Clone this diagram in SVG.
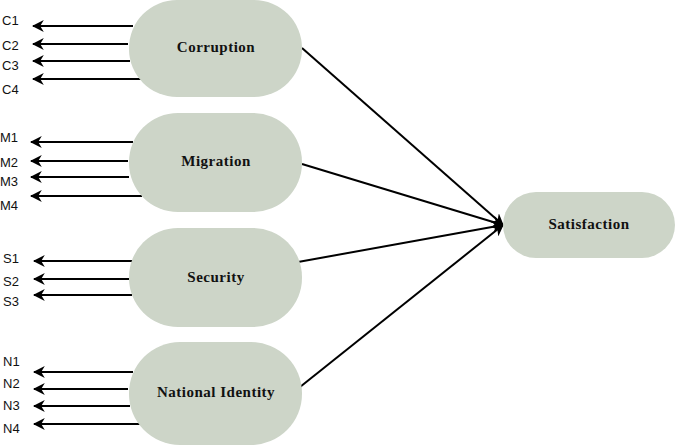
<svg xmlns="http://www.w3.org/2000/svg" width="676" height="448" viewBox="0 0 676 448">
<style>
.node{fill:#cdd5c8;}
.nl{font-family:"Liberation Serif",serif;font-weight:bold;font-size:15px;fill:#111;text-anchor:middle;dominant-baseline:central;letter-spacing:0.5px;}
.il{font-family:"Liberation Sans",sans-serif;font-size:13px;fill:#111;dominant-baseline:central;}
.c{stroke:#000;stroke-width:2;fill:none;marker-end:url(#ah);}
</style>
<defs>
<marker id="ah" viewBox="0 0 10 10" refX="9" refY="5" markerWidth="6" markerHeight="6" markerUnits="strokeWidth" orient="auto">
<path d="M0,0 L10,5 L0,10 L3,5 Z" fill="#000"/>
</marker>
</defs>
<rect width="676" height="448" fill="#fff"/>
<g id="connectors">
<line class="c" x1="133" y1="26" x2="33" y2="26"/>
<line class="c" x1="128" y1="44" x2="33" y2="44"/>
<line class="c" x1="130" y1="61" x2="33" y2="61"/>
<line class="c" x1="143" y1="79" x2="33" y2="79"/>
<line class="c" x1="133" y1="142" x2="31" y2="142"/>
<line class="c" x1="128" y1="161" x2="31" y2="161"/>
<line class="c" x1="129" y1="177" x2="31" y2="177"/>
<line class="c" x1="142" y1="196" x2="31" y2="196"/>
<line class="c" x1="134" y1="261" x2="34" y2="261"/>
<line class="c" x1="129" y1="279" x2="34" y2="279"/>
<line class="c" x1="132" y1="295" x2="34" y2="295"/>
<line class="c" x1="133" y1="372" x2="34" y2="372"/>
<line class="c" x1="128" y1="389" x2="34" y2="389"/>
<line class="c" x1="130" y1="406" x2="34" y2="406"/>
<line class="c" x1="143" y1="424" x2="34" y2="424"/>
<line class="c" x1="302" y1="48" x2="503" y2="225"/>
<line class="c" x1="302" y1="164" x2="503" y2="225"/>
<line class="c" x1="298" y1="262" x2="503" y2="225"/>
<line class="c" x1="300" y1="387" x2="503" y2="225"/>
</g>
<g id="corruption">
<rect class="node" x="129" y="0" width="173" height="97" rx="48" ry="48"/>
<text class="nl" x="216" y="47">Corruption</text>
</g>
<g id="migration">
<rect class="node" x="129" y="113" width="173" height="99" rx="49" ry="49"/>
<text class="nl" x="216" y="161">Migration</text>
</g>
<g id="security">
<rect class="node" x="129" y="228" width="173" height="99" rx="49" ry="49"/>
<text class="nl" x="216" y="277">Security</text>
</g>
<g id="national-identity">
<rect class="node" x="129" y="342" width="173" height="103" rx="51" ry="51"/>
<text class="nl" x="216" y="392">National Identity</text>
</g>
<g id="satisfaction">
<rect class="node" x="503" y="192" width="172" height="66" rx="33" ry="33"/>
<text class="nl" x="589" y="224">Satisfaction</text>
</g>
<g id="indicators">
<text class="il" x="2" y="20">C1</text>
<text class="il" x="2" y="45">C2</text>
<text class="il" x="2" y="65">C3</text>
<text class="il" x="2" y="89">C4</text>
<text class="il" x="0" y="137">M1</text>
<text class="il" x="0" y="162">M2</text>
<text class="il" x="0" y="181">M3</text>
<text class="il" x="0" y="205">M4</text>
<text class="il" x="3" y="258">S1</text>
<text class="il" x="3" y="281">S2</text>
<text class="il" x="3" y="301">S3</text>
<text class="il" x="3" y="361">N1</text>
<text class="il" x="3" y="383">N2</text>
<text class="il" x="3" y="405">N3</text>
<text class="il" x="3" y="428">N4</text>
</g>
</svg>
